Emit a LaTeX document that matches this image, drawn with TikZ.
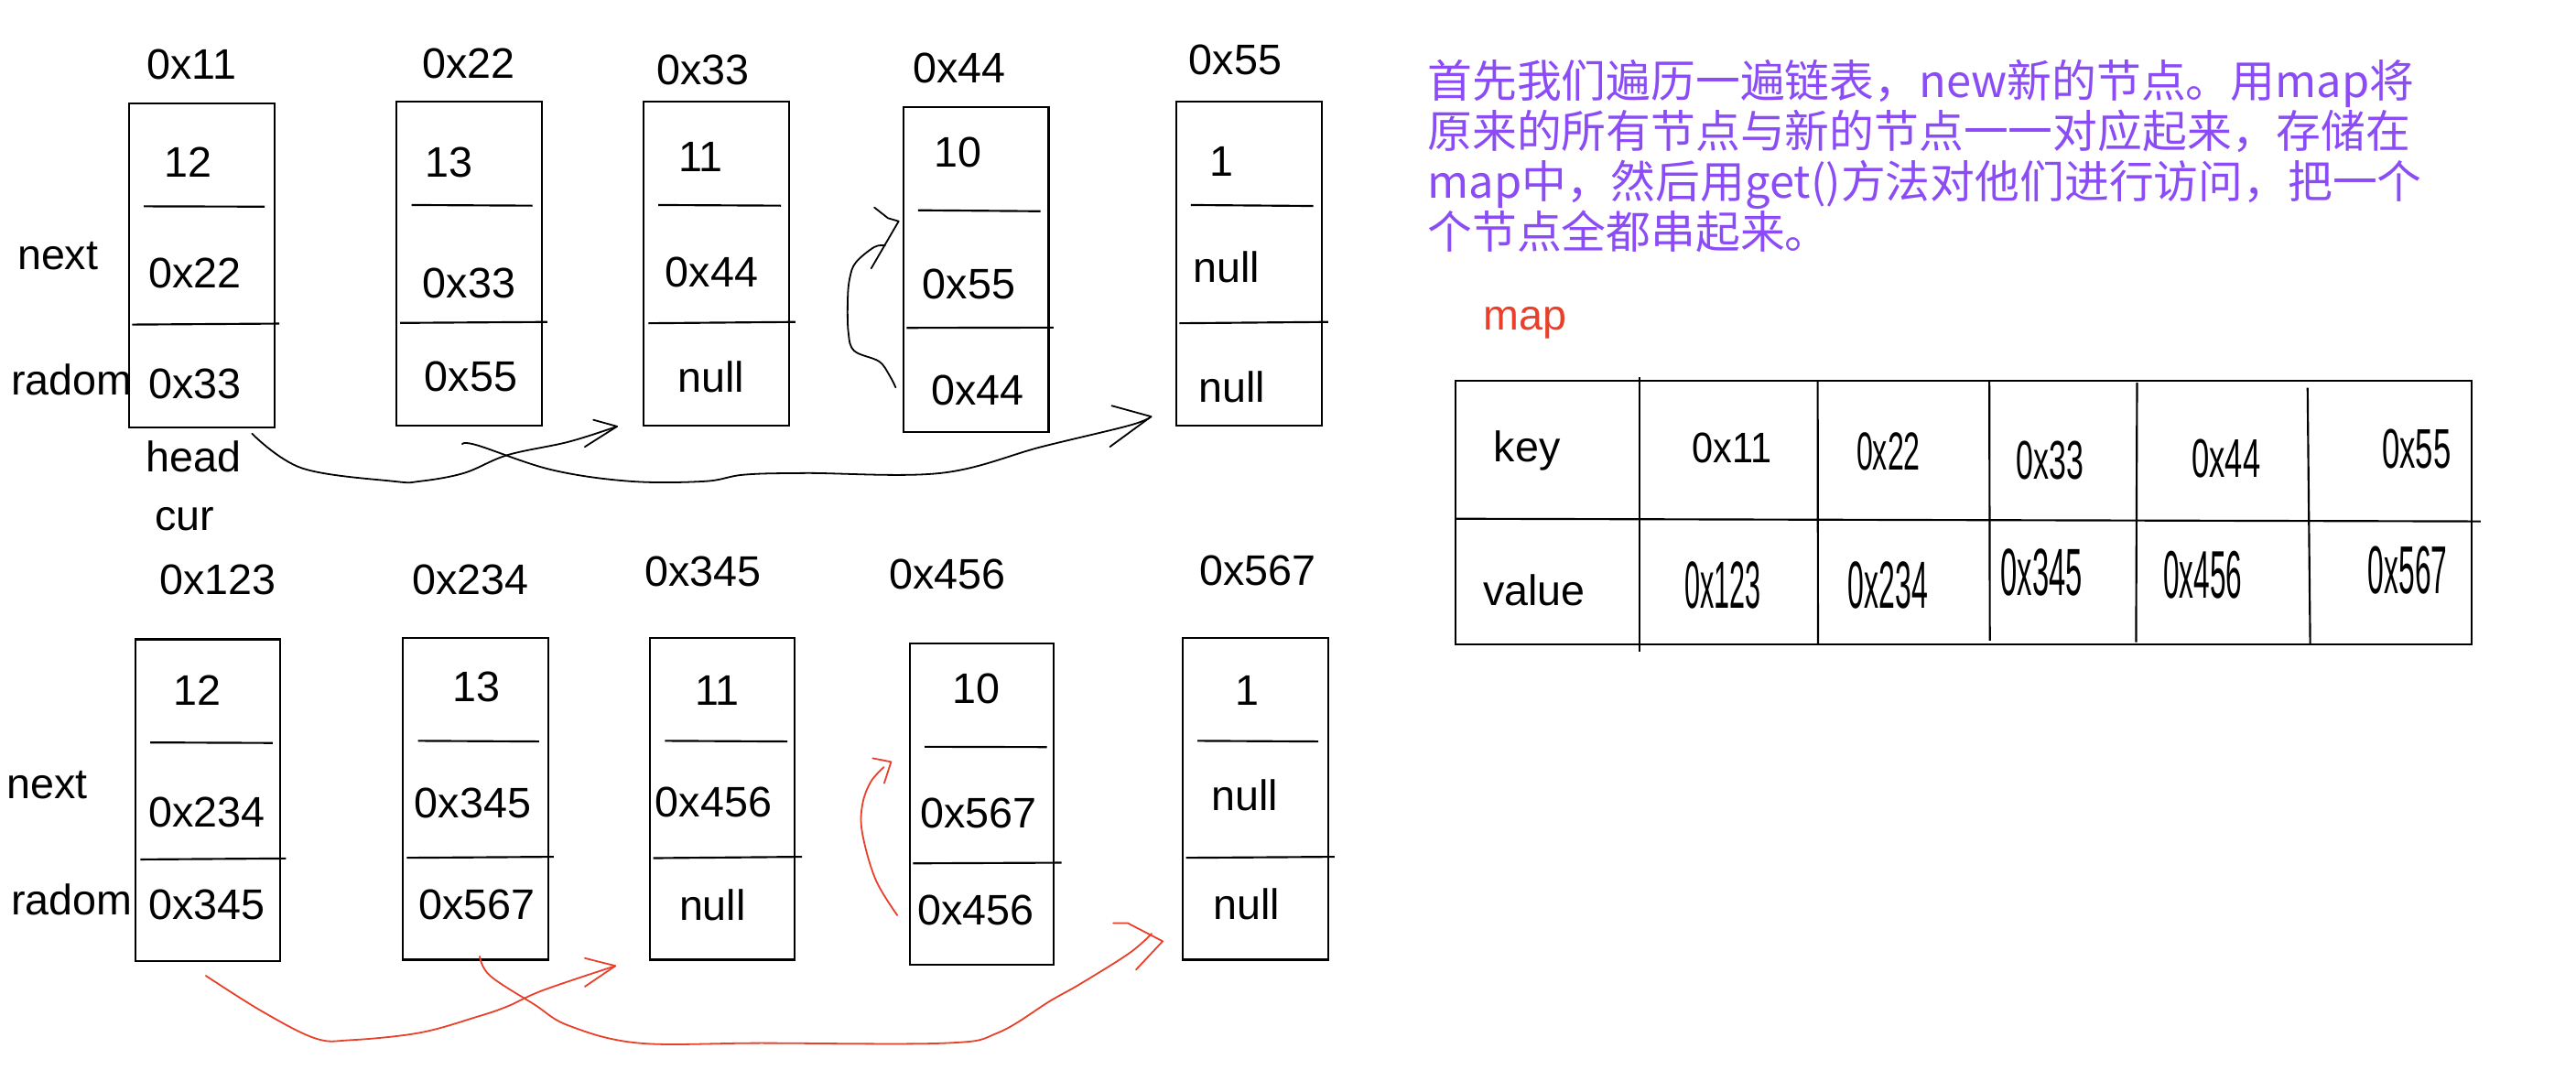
\documentclass[tikz,border=0pt]{standalone}
\usepackage{fontspec}
\setmainfont{Liberation Sans}
\newfontfamily\cjkfont{Noto Sans CJK SC}
\usetikzlibrary{fit}
\definecolor{notepurple}{RGB}{139,76,245}
\definecolor{notered}{RGB}{232,64,42}
\newcommand\sqz[3]{\scalebox{#1}[1]{\fontsize{#2}{#2}\selectfont #3}}
\begin{document}
\begin{tikzpicture}[x=0.5pt,y=-0.5pt,
  box/.style={draw, line width=0.6pt, inner sep=0pt},
  divider/.style={line width=0.6pt},
  lbl/.style={anchor=base, inner sep=0pt, font=\fontsize{13}{13}\selectfont},
  hand/.style={line width=0.5pt, line cap=round, line join=round},
  redhand/.style={hand, draw=notered},
  gridline/.style={line width=0.6pt},
  tcell/.style={anchor=base, inner sep=0pt},
  note/.style={anchor=base west, inner sep=0pt, text=notepurple, font=\cjkfont\fontsize{13.6}{13.6}\selectfont}
]
\fill[white] (0,0) rectangle (1568,651);
\useasboundingbox (0,0) rectangle (1568,651);

% ---------- boxes ----------
\foreach \n/\a/\b/\c/\d in {T1/78.4/63/167.3/260, T2/241.4/62/329.8/259, T3/391.8/62/480.2/259, T4/550/65/638.3/263, T5/715.9/62/804.4/259, B1/82.5/389.2/170.5/585.1, B2/245.1/388.2/333.6/584.2, B3/395.7/388.2/483.8/584.2, B4/553.8/391.5/641.3/587.5, B5/719.9/388.2/808.4/584.2}
  \node[box, fit={(\a,\b) (\c,\d)}] (\n) {};

% ---------- dividers ----------
\draw[divider] (87.5,125.6) -- (161.1,125.8);  \draw[divider] (80.5,197.6) -- (170,197);
\draw[divider] (250.6,124.8) -- (324.1,125.2); \draw[divider] (243.6,196.6) -- (333.1,196);
\draw[divider] (400.7,124.8) -- (475.3,125.2); \draw[divider] (394.7,196.8) -- (484.2,196);
\draw[divider] (558.8,128) -- (633.3,128.6);   \draw[divider] (551.8,199.6) -- (641.3,199.4);
\draw[divider] (724.9,124.8) -- (799.4,125.4); \draw[divider] (717.9,196.8) -- (808.4,196);
\draw[divider] (91.5,452) -- (166,452.3);      \draw[divider] (85.5,523.2) -- (174,522.6);
\draw[divider] (254.5,451) -- (328.1,451.4);   \draw[divider] (247.6,522.2) -- (337,521.6);
\draw[divider] (404.7,451) -- (479.2,451.4);   \draw[divider] (397.7,522.4) -- (488.2,521.6);
\draw[divider] (562.8,454.6) -- (637.3,454.8); \draw[divider] (555.8,525.6) -- (646.2,525.2);
\draw[divider] (728.9,451) -- (802.4,451.4);   \draw[divider] (721.9,522.2) -- (812.4,521.6);

% ---------- top list labels ----------
\node[lbl] (ta1) at (116.7,48.1) {0x11};
\node[lbl] (ta2) at (285.1,47.5) {0x22};
\node[lbl] (ta3) at (427.8,51.5) {0x33};
\node[lbl] (ta4) at (584,50.7) {0x44};
\node[lbl] (ta5) at (751.9,45.5) {0x55};
\node[lbl] (tv1) at (114.5,107.9) {12};
\node[lbl] (tv2) at (273.4,107.9) {13};
\node[lbl] (tv3) at (426.6,104.7) {11};
\node[lbl] (tv4) at (583,101.5) {10};
\node[lbl] (tv5) at (743.7,107.3) {1};
\node[lbl] (tn1) at (118.8,175.3) {0x22};
\node[lbl] (tn2) at (285.6,181.5) {0x33};
\node[lbl] (tn3) at (433.2,174.5) {0x44};
\node[lbl] (tn4) at (589.8,182.1) {0x55};
\node[lbl] (tn5) at (746.5,171.9) {null};
\node[lbl] (tr1) at (118.8,242.9) {0x33};
\node[lbl] (tr2) at (286.7,238.3) {0x55};
\node[lbl] (tr3) at (432.7,238.9) {null};
\node[lbl] (tr4) at (595.2,246.5) {0x44};
\node[lbl] (tr5) at (749.7,244.7) {null};
\node[lbl] (tnext) at (35.2,164) {next};
\node[lbl] (tradom) at (43.7,240.5) {radom};
\node[lbl] (head) at (117.7,287.1) {head};
\node[lbl] (cur) at (112.4,322.8) {cur};

% ---------- bottom list labels ----------
\node[lbl] (ba1) at (132.6,361.7) {0x123};
\node[lbl] (ba2) at (286.2,361.9) {0x234};
\node[lbl] (ba3) at (427.8,356.9) {0x345};
\node[lbl] (ba4) at (576.7,358.5) {0x456};
\node[lbl] (ba5) at (765.6,356.1) {0x567};
\node[lbl] (bv1) at (119.9,429.3) {12};
\node[lbl] (bv2) at (289.8,427.1) {13};
\node[lbl] (bv3) at (436.5,429.5) {11};
\node[lbl] (bv4) at (594.1,428.3) {10};
\node[lbl] (bv5) at (759.4,429.3) {1};
\node[lbl] (bn1) at (125.8,503.7) {0x234};
\node[lbl] (bn2) at (287.8,497.8) {0x345};
\node[lbl] (bn3) at (434.3,497.4) {0x456};
\node[lbl] (bn4) at (595.6,503.9) {0x567};
\node[lbl] (bn5) at (757.7,493.3) {null};
\node[lbl] (br1) at (125.8,559.6) {0x345};
\node[lbl] (br2) at (290.3,559.6) {0x567};
\node[lbl] (br3) at (433.7,560.5) {null};
\node[lbl] (br4) at (594.1,563.1) {0x456};
\node[lbl] (br5) at (758.7,559.6) {null};
\node[lbl] (bnext) at (28.8,485.9) {next};
\node[lbl] (bradom) at (43.7,557) {radom};

% ---------- black hand-drawn arrows ----------
\coordinate (a0) at (153.4,264); \coordinate (a1) at (375.6,259.6);
\draw[hand] plot[smooth, tension=0.6] coordinates {(a0) (183.8,285) (239.6,293) (255.5,293) (282.4,288) (309,277) (346,269) (a1)};
\draw[hand] (361.2,255.6) -- (a1) -- (356,272);

\coordinate (b0) at (281.4,270.4); \coordinate (b1) at (700.7,253.6);
\draw[hand] plot[smooth, tension=0.6] coordinates {(b0) (290.3,271) (335.7,286) (383.7,293) (429,293) (452.9,289) (490.2,288) (572.7,288) (634,272) (687.4,259) (b1)};
\draw[hand] (676.7,247) -- (b1) -- (675.6,272);

\coordinate (c0) at (545.2,235.9); \coordinate (c1) at (547,134.7);
\draw[hand] plot[smooth, tension=0.6] coordinates {(c0) (541.4,228.5) (535,220) (520,213.6) (516.4,202.4) (516,182) (517.3,169) (521,159.7) (532.2,150.4) (538.7,149.5)};
\draw[hand] (532.2,126.3) -- (540.5,132.8) -- (c1) -- (530.3,163.4);

% ---------- red hand-drawn arrows ----------
\coordinate (d0) at (125.3,594); \coordinate (d1) at (374.6,588);
\draw[redhand] plot[smooth, tension=0.6] coordinates {(d0) (159.9,615.9) (191.9,632.1) (213.2,633.2) (255.5,628.7) (290.3,619) (309,612.6) (330.4,602.9) (d1)};
\draw[redhand] (356,583.3) -- (d1) -- (356,600.6);

\coordinate (e0) at (292,582.2); \coordinate (e1) at (707.7,573);
\draw[redhand] plot[smooth, tension=0.6] coordinates {(e0) (298.3,594) (325.1,611.4) (346.3,624.4) (389,635) (463.3,635) (575.5,635) (607.5,628.7) (639.3,609.3) (657.5,599) (687.2,580.4) (701,568.4)};
\draw[redhand] (677.6,561.9) -- (686.3,561.9) -- (e1) -- (691.5,590.3);

\coordinate (f0) at (546.2,557.2); \coordinate (f1) at (542.4,463.8);
\draw[redhand] plot[smooth, tension=0.6] coordinates {(f0) (533,535.5) (524.9,507.3) (524.9,490) (530,476) (538,467)};
\draw[redhand] (531.2,461.6) -- (f1) -- (538.2,476.8);

% ---------- explanatory note ----------
\node[note] (n1) at (868.5,59.3) {首先我们遍历一遍链表，new新的节点。用map将};
\node[note] (n2) at (868.5,90) {原来的所有节点与新的节点一一对应起来，存储在};
\node[note] (n3) at (868.5,120.8) {map中，然后用get()方法对他们进行访问，把一个};
\node[note] (n4) at (868.5,151.5) {个节点全都串起来。};

% ---------- map table ----------
\node[lbl, text=notered] (maplbl) at (928.1,201) {map};
\draw[gridline] (886,231.6) -- (1504.5,231.6) -- (1504.5,392.5) -- (886,392.5) -- cycle;
\draw[gridline] (886,315.8) -- (1509.9,317.4);
\draw[gridline] (997.9,229.6) -- (997.9,396.5);
\draw[gridline] (1106.4,232) -- (1106.6,392.5);
\draw[gridline] (1210.9,232) -- (1211.2,390);
\draw[gridline] (1300.8,233) -- (1300.2,391);
\draw[gridline] (1404.6,236) -- (1406.2,392.5);

\node[lbl] (kkey) at (929.5,281.1) {key};
\node[tcell] (k1) at (1054.4,281.9) {\sqz{0.89}{13}{0x11}};
\node[tcell] (k2) at (1149.5,286) {\sqz{0.55}{16.3}{0x22}};
\node[tcell] (k3) at (1248,291.9) {\sqz{0.57}{16.6}{0x33}};
\node[tcell] (k4) at (1355,290.4) {\sqz{0.58}{16.6}{0x44}};
\node[tcell] (k5) at (1470.9,285.1) {\sqz{0.57}{17}{0x55}};
\node[lbl] (vval) at (933.9,368.4) {value};
\node[tcell] (v1) at (1048.5,370) {\sqz{0.42}{20.3}{0x123}};
\node[tcell] (v2) at (1149.1,370) {\sqz{0.44}{20.3}{0x234}};
\node[tcell] (v3) at (1242.7,362.5) {\sqz{0.45}{20.3}{0x345}};
\node[tcell] (v4) at (1340.8,364.4) {\sqz{0.43}{20.5}{0x456}};
\node[tcell] (v5) at (1465.6,361.3) {\sqz{0.43}{20.6}{0x567}};
\end{tikzpicture}
\end{document}
